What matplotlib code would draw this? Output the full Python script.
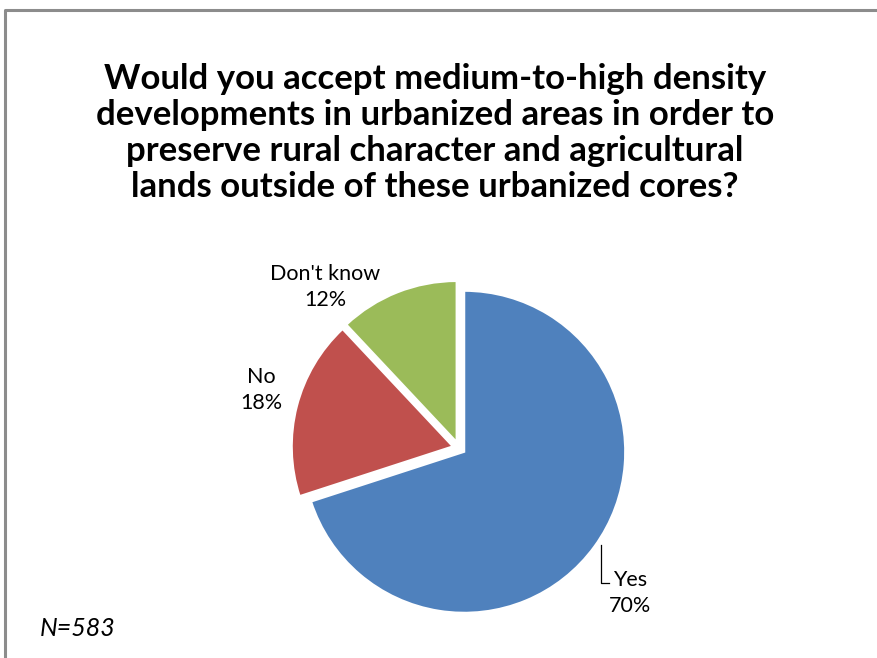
import matplotlib
matplotlib.use("Agg")
import matplotlib.pyplot as plt
from matplotlib.lines import Line2D

categories = ["Yes", "No", "Don't know"]
values = [70, 18, 12]
colors = ["#4F81BD", "#C0504D", "#9BBB59"]
title = ("Would you accept medium-to-high density\n"
         "developments in urbanized areas in order to\n"
         "preserve rural character and agricultural\n"
         "lands outside of these urbanized cores?")
note = "N=583"

W, H = 877, 658
fig = plt.figure(figsize=(W / 100, H / 100), dpi=100)
fig.patch.set_facecolor("white")

# border (top/left visible)
bx, by = 5 / W, 1 - 10 / H
fig.lines.append(Line2D([bx, bx, 1.1], [-0.1, by, by], transform=fig.transFigure,
                        color="#8c8c8c", linewidth=2.2))

cx, cy, r = 459, 448, 161
half = 1.5 * r
ax = fig.add_axes([(cx - half) / W, (H - cy - half) / H, 2 * half / W, 2 * half / H])

ax.pie(values, colors=colors, startangle=90, counterclock=False,
       explode=[0.04] * len(values), radius=1.0,
       wedgeprops=dict(edgecolor="white", linewidth=1.5))
ax.set_xlim(-1.5, 1.5)
ax.set_ylim(-1.5, 1.5)
ax.set_aspect("equal")
ax.axis("off")

font = "Lato"
label_pos = {"Yes": (1.06, -0.90), "No": (-1.23, 0.36), "Don't know": (-0.83, 1.0)}
for cat, val in zip(categories, values):
    x, y = label_pos[cat]
    ax.text(x, y, f"{cat}\n{val}%", ha="center", va="center", fontsize=15.5,
            family=font, linespacing=1.35, color="black")

# leader line for Yes
ax.plot([0.88, 0.88, 0.93], [-0.60, -0.84, -0.84], color="black", lw=0.9)

fig.text(435 / W, 1 - 133 / H, title, ha="center", va="center", fontsize=25,
         fontweight="bold", family=font, linespacing=1.15)
fig.text(40 / W, 1 - 628 / H, note, ha="left", va="center", fontsize=18,
         style="italic", family=font)

fig.savefig("out.png", dpi=100, facecolor="white")
